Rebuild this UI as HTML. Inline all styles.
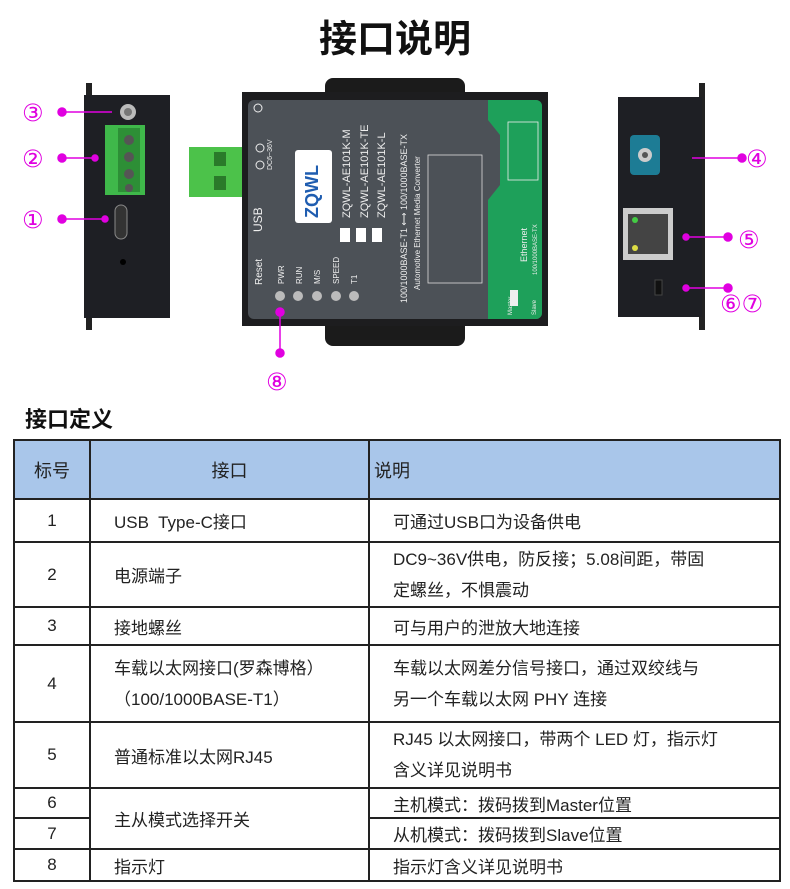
<!DOCTYPE html>
<html><head><meta charset="utf-8">
<style>
body{margin:0;width:790px;height:889px;background:#fff;position:relative;overflow:hidden;font-family:"Liberation Sans","Noto Sans CJK SC",sans-serif}
.t{position:absolute}
table{position:absolute;left:13px;top:439px;border-collapse:collapse;width:768px;font-size:17px;color:#222}
td{border:2px solid #222;padding:0;vertical-align:middle;white-space:nowrap}
tr.h td{background:#a9c6ea;height:57px;font-size:18px}
</style></head><body>
<div class="t" style="left:0;width:790px;top:8px;text-align:center;font-size:38px;font-weight:bold;color:#111">接口说明</div>
<svg class="t" style="left:0;top:0" width="790" height="400" font-family="Liberation Sans, sans-serif">
<rect x="86" y="83" width="6" height="247" fill="#222"/>
<rect x="84" y="95" width="86" height="223" fill="#1e1f24"/>
<circle cx="128" cy="112" r="8" fill="#bbb"/><circle cx="128" cy="112" r="4" fill="#777"/>
<rect x="105" y="125" width="40" height="70" fill="#3fb84a"/>
<rect x="118" y="128" width="22" height="64" fill="#2d8f36"/>
<circle cx="129" cy="140" r="5" fill="#555"/><circle cx="129" cy="157" r="5" fill="#555"/><circle cx="129" cy="174" r="5" fill="#555"/><circle cx="129" cy="188" r="4" fill="#555"/>
<rect x="115" y="205" width="12" height="34" rx="6" fill="#333" stroke="#888"/>
<circle cx="123" cy="262" r="3" fill="#000"/>
<rect x="325" y="78" width="140" height="268" rx="8" fill="#1b1b1b"/>
<rect x="189" y="147" width="54" height="50" fill="#4cc24a"/>
<rect x="214" y="152" width="12" height="14" fill="#2a7a2a"/><rect x="214" y="176" width="12" height="14" fill="#2a7a2a"/>
<rect x="242" y="92" width="306" height="234" fill="#1d1d1f"/>
<rect x="248" y="100" width="294" height="219" rx="6" fill="#4c5157"/>
<path d="M488 100 H536 a6 6 0 0 1 6 6 V313 a6 6 0 0 1 -6 6 H488 V200 L500 185 V135 L488 120Z" fill="#1ea05a"/>
<g fill="#eee" font-size="10">
<text transform="translate(262,232) rotate(-90)" font-size="12">USB</text>
<text transform="translate(262,285) rotate(-90)">Reset</text>
<text transform="translate(284,284) rotate(-90)" font-size="8">PWR</text>
<text transform="translate(302,284) rotate(-90)" font-size="8">RUN</text>
<text transform="translate(320,284) rotate(-90)" font-size="8">M/S</text>
<text transform="translate(339,284) rotate(-90)" font-size="8">SPEED</text>
<text transform="translate(357,284) rotate(-90)" font-size="8">T1</text>
<text transform="translate(350,218) rotate(-90)" font-size="11">ZQWL-AE101K-M</text>
<text transform="translate(368,218) rotate(-90)" font-size="11">ZQWL-AE101K-TE</text>
<text transform="translate(385,218) rotate(-90)" font-size="11">ZQWL-AE101K-L</text>
<text transform="translate(407,303) rotate(-90)" font-size="9">100/1000BASE-T1 ⟷ 100/1000BASE-TX</text>
<text transform="translate(420,290) rotate(-90)" font-size="8">Automotive Ethernet Media Converter</text>
<text transform="translate(272,170) rotate(-90)" font-size="7">DC6~36V</text>
<text transform="translate(527,262) rotate(-90)" font-size="9">Ethernet</text>
<text transform="translate(537,275) rotate(-90)" font-size="6">100/1000BASE-TX</text>
<text transform="translate(512,315) rotate(-90)" font-size="6">Master</text>
<text transform="translate(536,315) rotate(-90)" font-size="6">Slave</text>
</g>
<g fill="#bbb"><circle cx="280" cy="296" r="5"/><circle cx="298" cy="296" r="5"/><circle cx="317" cy="296" r="5"/><circle cx="336" cy="296" r="5"/><circle cx="354" cy="296" r="5"/></g>
<circle cx="258" cy="108" r="4" fill="none" stroke="#eee"/>
<circle cx="260" cy="148" r="4" fill="none" stroke="#eee"/><circle cx="260" cy="165" r="4" fill="none" stroke="#eee"/>
<rect x="295" y="150" width="37" height="73" rx="3" fill="#fff"/>
<text transform="translate(318,218) rotate(-90)" font-size="18" font-weight="bold" fill="#1f5db0">ZQWL</text>
<rect x="340" y="228" width="10" height="14" fill="#fff"/><rect x="356" y="228" width="10" height="14" fill="#fff"/><rect x="372" y="228" width="10" height="14" fill="#fff"/>
<rect x="428" y="155" width="54" height="128" fill="none" stroke="#ddd" stroke-width="0.8"/>
<rect x="508" y="122" width="30" height="58" fill="none" stroke="#eee" stroke-width="0.8"/>
<rect x="510" y="290" width="8" height="16" fill="#eee"/>
<rect x="699" y="83" width="6" height="247" fill="#222"/>
<rect x="618" y="97" width="84" height="220" fill="#1e1f24"/>
<rect x="630" y="135" width="30" height="40" rx="4" fill="#1d7c95"/>
<circle cx="645" cy="155" r="7" fill="#ccc"/><circle cx="645" cy="155" r="3" fill="#555"/>
<rect x="623" y="208" width="50" height="52" fill="#ccc"/>
<rect x="628" y="214" width="40" height="40" fill="#444"/>
<circle cx="635" cy="220" r="3" fill="#4c4"/><circle cx="635" cy="248" r="3" fill="#dd4"/>
<rect x="655" y="280" width="7" height="15" fill="#111" stroke="#444"/>
<g stroke="#e000e0" stroke-width="1.5" fill="#e000e0">
<line x1="62" y1="112" x2="112" y2="112"/><circle cx="62" cy="112" r="4"/>
<line x1="62" y1="158" x2="95" y2="158"/><circle cx="62" cy="158" r="4"/><circle cx="95" cy="158" r="3"/>
<line x1="62" y1="219" x2="105" y2="219"/><circle cx="62" cy="219" r="4"/><circle cx="105" cy="219" r="3"/>
<line x1="280" y1="312" x2="280" y2="353"/><circle cx="280" cy="312" r="4"/><circle cx="280" cy="353" r="4"/>
<line x1="692" y1="158" x2="742" y2="158"/><circle cx="742" cy="158" r="4"/>
<line x1="686" y1="237" x2="728" y2="237"/><circle cx="728" cy="237" r="4"/><circle cx="686" cy="237" r="3"/>
<line x1="686" y1="288" x2="728" y2="288"/><circle cx="728" cy="288" r="4"/><circle cx="686" cy="288" r="3"/>
</g>
<g fill="#e000e0" font-size="24" font-family="DejaVu Sans, sans-serif">
<text x="22" y="121">③</text><text x="22" y="167">②</text><text x="22" y="228">①</text>
<text x="266" y="390">⑧</text><text x="746" y="167">④</text><text x="738" y="248">⑤</text><text x="720" y="312">⑥⑦</text>
</g>
</svg>
<div class="t" style="left:25px;top:402px;font-size:22px;font-weight:bold;color:#111">接口定义</div>
<table>
<colgroup><col style="width:76px"><col style="width:279px"><col></colgroup>
<tr class="h"><td style="text-align:center">标号</td><td style="text-align:center">接口</td><td style="padding-left:4px">说明</td></tr>
<tr style="height:43px"><td align="center">1</td><td style="padding-left:23px">USB&nbsp; Type-C接口</td><td style="padding-left:23px">可通过USB口为设备供电</td></tr>
<tr style="height:65px"><td align="center">2</td><td style="padding-left:23px">电源端子</td><td style="padding-left:23px;line-height:31px">DC9~36V供电，防反接；5.08间距，带固<br>定螺丝，不惧震动</td></tr>
<tr style="height:38px"><td align="center">3</td><td style="padding-left:23px">接地螺丝</td><td style="padding-left:23px">可与用户的泄放大地连接</td></tr>
<tr style="height:77px"><td align="center">4</td><td style="padding-left:23px;line-height:31px">车载以太网接口(罗森博格）<br>（100/1000BASE-T1）</td><td style="padding-left:23px;line-height:31px">车载以太网差分信号接口，通过双绞线与<br>另一个车载以太网 PHY 连接</td></tr>
<tr style="height:66px"><td align="center">5</td><td style="padding-left:23px">普通标准以太网RJ45</td><td style="padding-left:23px;line-height:31px">RJ45 以太网接口，带两个 LED 灯，指示灯<br>含义详见说明书</td></tr>
<tr style="height:30px"><td align="center">6</td><td rowspan="2" style="padding-left:23px">主从模式选择开关</td><td style="padding-left:23px">主机模式：拨码拨到Master位置</td></tr>
<tr style="height:31px"><td align="center">7</td><td style="padding-left:23px">从机模式：拨码拨到Slave位置</td></tr>
<tr style="height:32px"><td align="center">8</td><td style="padding-left:23px">指示灯</td><td style="padding-left:23px">指示灯含义详见说明书</td></tr>
</table>
</body></html>
